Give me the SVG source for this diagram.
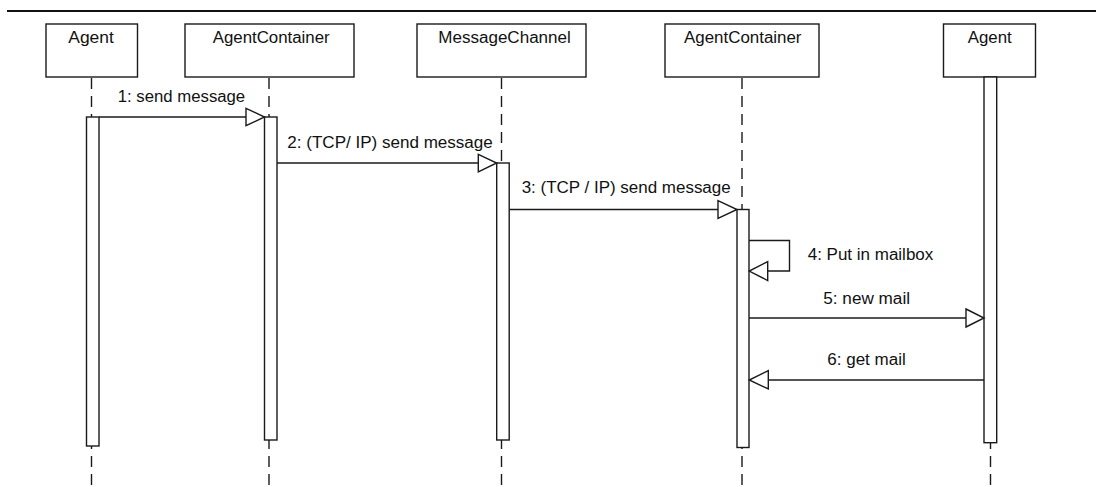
<svg xmlns="http://www.w3.org/2000/svg" width="1096" height="487" viewBox="0 0 1096 487">
<style>
  .box{fill:#fff;stroke:#1a1a1a;stroke-width:1.4}
  .bar{fill:#fff;stroke:#1a1a1a;stroke-width:1.4}
  .life{stroke:#1a1a1a;stroke-width:1.4;stroke-dasharray:11 7;fill:none}
  .msg{stroke:#1a1a1a;stroke-width:1.4;fill:none}
  .head{fill:#fff;stroke:#1a1a1a;stroke-width:1.4;stroke-linejoin:miter}
  text{font-family:"Liberation Sans",Arial,sans-serif;font-size:16px;fill:#111}
</style>
<rect width="1096" height="487" fill="#fff"/>
<line x1="7" y1="11" x2="1096" y2="11" stroke="#111" stroke-width="2"/>

<g id="lifelines">
  <line class="life" x1="91.5" y1="78" x2="91.5" y2="487"/>
  <line class="life" x1="269" y1="78" x2="269" y2="487"/>
  <line class="life" x1="501.5" y1="78" x2="501.5" y2="487"/>
  <line class="life" x1="742" y1="78" x2="742" y2="487"/>
  <line class="life" x1="990.5" y1="78" x2="990.5" y2="487"/>
</g>

<g id="node-agent1">
  <rect class="box" x="46" y="24" width="91.5" height="53"/>
  <text x="68.3" y="42.5" textLength="45.5" lengthAdjust="spacingAndGlyphs">Agent</text>
  <rect class="bar" x="86.5" y="117" width="12.5" height="329"/>
</g>
<g id="node-container1">
  <rect class="box" x="185" y="24" width="169" height="53"/>
  <text x="212.7" y="42.5" textLength="117" lengthAdjust="spacingAndGlyphs">AgentContainer</text>
  <rect class="bar" x="264.5" y="117" width="12.5" height="323"/>
</g>
<g id="node-channel">
  <rect class="box" x="417" y="24" width="169" height="53"/>
  <text x="438.3" y="42.5" textLength="132.5" lengthAdjust="spacingAndGlyphs">MessageChannel</text>
  <rect class="bar" x="496.7" y="163" width="12.5" height="277"/>
</g>
<g id="node-container2">
  <rect class="box" x="665" y="24" width="154" height="53"/>
  <text x="684" y="42.5" textLength="117.5" lengthAdjust="spacingAndGlyphs">AgentContainer</text>
  <rect class="bar" x="737" y="209.5" width="12" height="238"/>
</g>
<g id="node-agent2">
  <rect class="box" x="943.5" y="24" width="92" height="53"/>
  <text x="967.7" y="42.5" textLength="44" lengthAdjust="spacingAndGlyphs">Agent</text>
  <rect class="bar" x="984" y="77" width="12.7" height="365.7"/>
</g>

<g id="connectors">
  <line class="msg" x1="99" y1="117" x2="246" y2="117"/>
  <polygon class="head" points="246,108.3 264.5,117 246,125.7"/>
  <text x="117.7" y="101.5" textLength="127.5" lengthAdjust="spacingAndGlyphs">1: send message</text>

  <line class="msg" x1="277" y1="163" x2="478.3" y2="163"/>
  <polygon class="head" points="478.3,154.3 496.7,163 478.3,172"/>
  <text x="287.3" y="148" textLength="205.5" lengthAdjust="spacingAndGlyphs">2: (TCP/ IP) send message</text>

  <line class="msg" x1="509.2" y1="209.5" x2="718" y2="209.5"/>
  <polygon class="head" points="718,200.7 737,209.5 718,218.5"/>
  <text x="521.7" y="193.3" textLength="209" lengthAdjust="spacingAndGlyphs">3: (TCP / IP) send message</text>

  <polyline class="msg" points="749,240.5 789.5,240.5 789.5,271 767.7,271"/>
  <polygon class="head" points="767.7,261.7 749.2,271 767.7,280.5"/>
  <text x="807.7" y="259.5" textLength="125.6" lengthAdjust="spacingAndGlyphs">4: Put in mailbox</text>

  <line class="msg" x1="749" y1="318" x2="966" y2="318"/>
  <polygon class="head" points="966,309 984,318 966,327"/>
  <text x="823.3" y="303.5" textLength="86.7" lengthAdjust="spacingAndGlyphs">5: new mail</text>

  <line class="msg" x1="984" y1="380" x2="768.3" y2="380"/>
  <polygon class="head" points="768.3,370.7 749.2,380 768.3,389"/>
  <text x="827.3" y="365" textLength="78.4" lengthAdjust="spacingAndGlyphs">6: get mail</text>
</g>
</svg>
